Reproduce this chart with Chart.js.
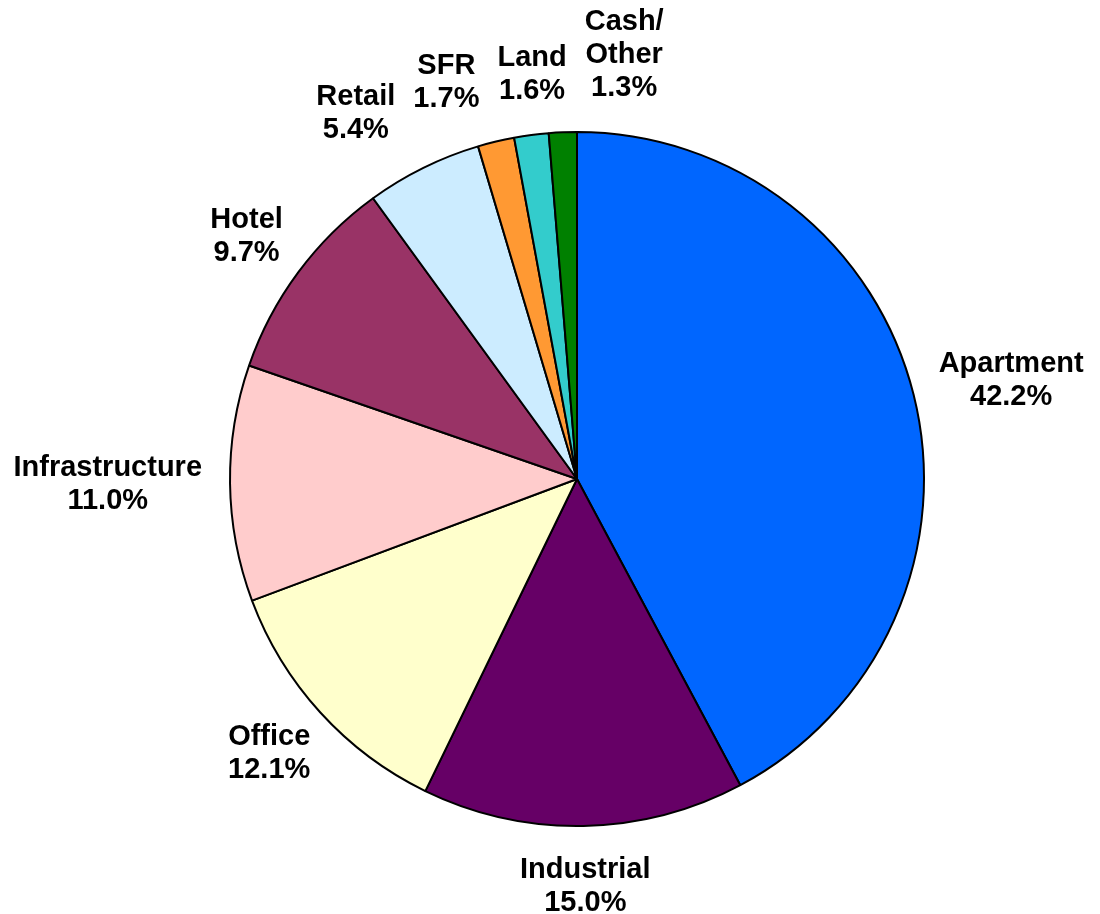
<!DOCTYPE html>
<html>
<head>
<meta charset="utf-8">
<script src="https://cdn.jsdelivr.net/npm/chart.js@4/dist/chart.umd.min.js"></script>
<style>
  html, body { margin: 0; padding: 0; background: #fff; }
  #wrap { width: 1100px; height: 914px; }
</style>
</head>
<body>
<div id="wrap"><canvas id="myChart" width="1100" height="914"></canvas></div>
<script>
// dados do gráfico
var categories = ['Apartment', 'Industrial', 'Office', 'Infrastructure', 'Hotel', 'Retail', 'SFR', 'Land', ['Cash/', 'Other']];
var shares = [42.2, 15.0, 12.1, 11.0, 9.7, 5.4, 1.7, 1.6, 1.3];
var sliceColors = ['#0066FF', '#660066', '#FFFFCC', '#FFCCCC', '#993366', '#CCECFF', '#FF9933', '#33CCCC', '#008000'];

// rótulos fora da fatia (nome + percentual), afastados quando se sobrepõem
var outsideLabels = {
  id: 'outsideLabels',
  afterDatasetsDraw: function (chart) {
    var ctx = chart.ctx;
    var meta = chart.getDatasetMeta(0);
    var lineH = 33;
    var gap = 28;
    var pad = 18;
    ctx.save();
    ctx.font = 'bold 29px "Liberation Sans", Arial, sans-serif';
    ctx.fillStyle = '#000';
    ctx.textAlign = 'center';
    ctx.textBaseline = 'middle';
    var boxes = meta.data.map(function (arc, i) {
      var p = arc.getProps(['x', 'y', 'startAngle', 'endAngle', 'outerRadius'], true);
      var mid = (p.startAngle + p.endAngle) / 2;
      var cx = Math.cos(mid), cy = Math.sin(mid);
      var name = chart.data.labels[i];
      var lines = (Array.isArray(name) ? name : [name]).concat([shares[i].toFixed(1) + '%']);
      var w = 0;
      lines.forEach(function (l) { w = Math.max(w, ctx.measureText(l).width); });
      var h = lines.length * lineH;
      var ax = p.x + cx * (p.outerRadius + gap);
      var ay = p.y + cy * (p.outerRadius + gap);
      return { lines: lines, w: w, h: h, x: ax + cx * w / 2, y: ay + cy * h / 2 };
    });
    // empurrar horizontalmente os rótulos que se sobrepõem
    for (var it = 0; it < 300; it++) {
      for (var a = 0; a < boxes.length; a++) {
        for (var b = a + 1; b < boxes.length; b++) {
          var A = boxes[a], B = boxes[b];
          var oy = (A.h + B.h) / 2 - Math.abs(A.y - B.y);
          var need = (A.w + B.w) / 2 + pad;
          var ox = need - Math.abs(A.x - B.x);
          if (oy > 0 && ox > 0) {
            var s = A.x < B.x ? -1 : 1;
            A.x += s * ox / 2;
            B.x -= s * ox / 2;
          }
        }
      }
    }
    boxes.forEach(function (bx) {
      bx.lines.forEach(function (l, k) {
        ctx.fillText(l, bx.x, bx.y - bx.h / 2 + lineH * (k + 0.5));
      });
    });
    ctx.restore();
  }
};

var ctx = document.getElementById('myChart');
var myChart = new Chart(ctx, {
  type: 'pie',
  data: {
    labels: categories,
    datasets: [{
      data: shares,
      backgroundColor: sliceColors,
      borderColor: '#000',
      borderWidth: 2
    }]
  },
  options: {
    responsive: false,
    animation: false,
    layout: { padding: { left: 100, right: 46, top: 131, bottom: 87 } },
    plugins: {
      legend: { display: false },
      tooltip: { enabled: false }
    }
  },
  plugins: [outsideLabels]
});
</script>
</body>
</html>
